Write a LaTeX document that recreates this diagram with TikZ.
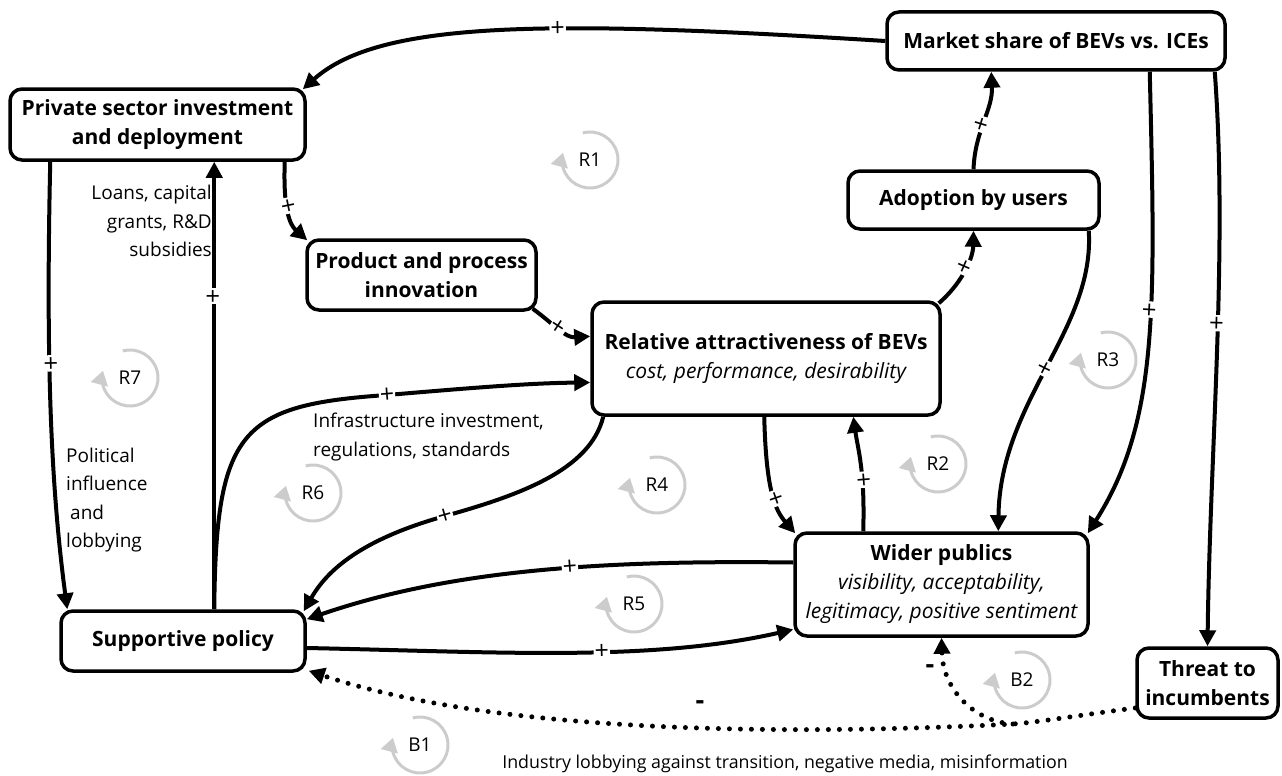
\documentclass[tikz,border=0pt]{standalone}
\usepackage{fontspec}
\setmainfont{Open Sans}
\usetikzlibrary{arrows.meta,calc}
\begin{document}
\begin{tikzpicture}[x=1pt,y=-1pt,
  box/.style={draw, line width=3.5pt, rounded corners=12pt, align=center, fill=white, inner sep=2pt, font=\fontsize{21}{29}\selectfont\bfseries},
  conn/.style={line width=4pt, -{Triangle[length=16pt,width=16pt]}},
  dotc/.style={line width=5pt, line cap=round, dash pattern=on 0pt off 11pt, -{Triangle[length=16pt,width=16pt]}},
  pl/.style={fill=white, inner sep=1pt, font=\fontsize{25}{25}\selectfont, sloped},
  lbl/.style={font=\fontsize{19}{28.5}\selectfont, inner sep=0pt},
  loopc/.style={draw=black!20, line width=3pt, -{Triangle[length=14pt,width=17pt]}},
  looplbl/.style={font=\fontsize{19}{19}\selectfont, inner sep=0pt},
  minus/.style={font=\fontsize{27}{27}\selectfont\bfseries, inner sep=0pt},
]
\useasboundingbox (0,0) rectangle (1282,776);

% nodes
\node[box, minimum width=338pt, minimum height=58pt] (ms) at (1056,41) {Market share of BEVs vs. ICEs};
\node[box, minimum width=295pt, minimum height=71pt] (ps) at (157.5,124.5) {Private sector investment\\and deployment};
\node[box, minimum width=229pt, minimum height=70pt] (pp) at (421.5,275) {Product and process\\innovation};
\node[box, minimum width=348pt, minimum height=113pt] (ra) at (766,358.5) {Relative attractiveness of BEVs\\\mdseries\itshape cost, performance, desirability};
\node[box, minimum width=251pt, minimum height=58pt] (ad) at (973.5,200) {Adoption by users};
\node[box, minimum width=293pt, minimum height=103pt] (wp) at (941.5,584.5) {Wider publics\\\mdseries\itshape visibility, acceptability,\\\mdseries\itshape legitimacy, positive sentiment};
\node[box, minimum width=244pt, minimum height=60pt] (sp) at (183,641) {Supportive policy};
\node[box, minimum width=141pt, minimum height=70pt] (th) at (1207.5,683) {Threat to\\incumbents};

% text labels
\node[lbl, anchor=east, align=right] (tloans) at (212,221) {Loans, capital\\grants, R\&D\\subsidies};
\node[lbl, anchor=west, align=left] (tpol) at (66,500) {Political\\influence\\\hspace{4pt}and\\lobbying};
\node[lbl, anchor=west, align=left] (tinf) at (313,437) {Infrastructure investment,\\regulations, standards};
\node[lbl, font=\fontsize{17.8}{20}\selectfont] (tind) at (785,764) {Industry lobbying against transition, negative media, misinformation};

% loop markers
\foreach \nm/\px/\py in {R1/590/160, R7/130/378, R6/313/493, R4/657/485, R2/938/464, R3/1108/360, R5/634/604, B2/1022/680, B1/420/745} {
  \node[looplbl] (l\nm) at (\px,\py) {\nm};
  \draw[loopc] ([shift={(105:28pt)}]l\nm.center) arc[start angle=105, end angle=-195, radius=28pt];
}

% connectors
\draw[conn] (ms.west) .. controls (550,20) and (380,20) .. node[pl,pos=0.4]{+} ($(ps.north east)+(-4,2)$);
\draw[conn] ($(ps.south east)+(-22,0)$) .. controls (283,210) and (290,225) .. node[pl,pos=0.4]{+} ($(pp.north west)+(2,2)$);
\draw[conn] ($(pp.south east)+(-5,-3)$) .. controls (555,325) and (565,338) .. node[pl,pos=0.45]{+} ($(ra.north west)+(0,36)$);
\draw[conn] ($(ra.north east)+(-3,3)$) .. controls (960,285) and (973,260) .. node[pl,pos=0.55]{+} (ad.south);
\draw[conn] (ad.north) .. controls (975,130) and (993,110) .. node[pl,pos=0.45]{+} ($(ms.south west)+(106,0)$);
\draw[conn] ($(ad.south east)+(-12,0)$) .. controls (1095,330) and (1000,400) .. node[pl,pos=0.5]{+} ($(wp.north west)+(205,0)$);
\draw[conn] ($(ms.south east)+(-77,0)$) .. controls (1155,300) and (1160,420) .. node[pl,pos=0.42]{+} ($(wp.north east)+(-2,2)$);
\draw[conn] ($(ms.south east)+(-12,0)$) .. controls (1228,250) and (1210,450) .. node[pl,pos=0.45]{+} (th.north);
\draw[conn] ($(ra.south west)+(174,0)$) .. controls (766,490) and (775,510) .. node[pl,pos=0.55]{+} ($(wp.north west)+(2,2)$);
\draw[conn] ($(wp.north west)+(70,0)$) .. controls (865,470) and (858,450) .. node[pl,pos=0.35]{+} ($(ra.south west)+(263,0)$);
\draw[conn] ($(ra.south west)+(13,0)$) .. controls (590,470) and (520,495) .. (445,516) .. controls (370,537) and (330,565) .. node[pl,pos=0]{+} ($(sp.north east)+(-3,2)$);
\draw[conn] ($(sp.north west)+(155,0)$) .. controls (216,430) and (240,405) .. (387,395) .. controls (470,388) and (530,383) .. node[pl,pos=0]{+} ($(ra.west)+(0,24)$);
\draw[conn] ($(sp.north west)+(155,0)$) -- node[pl,pos=0.7]{+} ($(ps.south west)+(206,0)$);
\draw[conn] ($(ps.south west)+(42,0)$) .. controls (46,350) and (50,480) .. node[pl,pos=0.4]{+} ($(sp.north west)+(8,0)$);
\draw[conn] ($(wp.west)+(0,-22)$) .. controls (600,560) and (450,570) .. node[pl,pos=0.42]{+} ($(sp.north east)+(0,10)$);
\draw[conn] ($(sp.east)+(0,7)$) .. controls (500,652) and (650,662) .. node[pl,pos=0.57]{+} ($(wp.west)+(0,45)$);

% dotted negative links
\coordinate (br) at (1013,724);
\draw[dotc] ($(th.west)+(0,25)$) .. controls (1080,715) and (1040,722) .. (br) .. controls (800,735) and (500,735) .. ($(sp.south east)+(2,-2)$);
\draw[dotc] (br) .. controls (975,722) and (943,690) .. (wp.south);
\node[minus] (m1) at (700,705) {-};
\node[minus] (m2) at (930,669) {-};
\end{tikzpicture}
\end{document}
